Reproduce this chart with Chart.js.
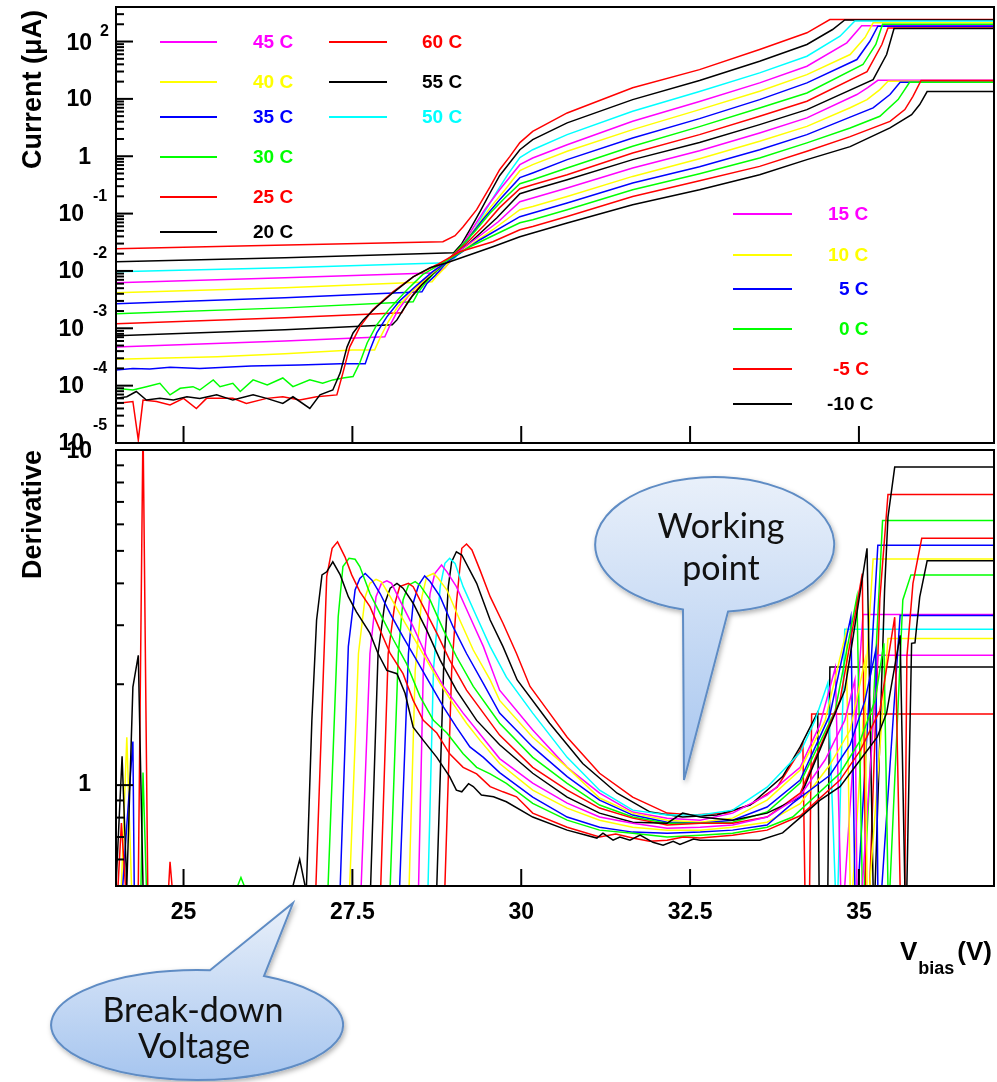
<!DOCTYPE html>
<html>
<head>
<meta charset="utf-8">
<title>SiPM I-V and derivative</title>
<script src="https://cdn.jsdelivr.net/npm/chart.js@4.4.0/dist/chart.umd.min.js"></script>
<style>
  html, body { margin: 0; padding: 0; background: #fff; }
  #wrap { position: relative; width: 997px; height: 1082px; overflow: hidden; }
  #wrap canvas, #wrap svg { position: absolute; left: 0; top: 0; }
  #wrap svg { pointer-events: none; }
</style>
</head>
<body>
<div id="wrap">
  <canvas id="topPanel" width="997" height="1082"></canvas>
  <canvas id="bottomPanel" width="997" height="1082"></canvas>
  <svg width="997" height="1082" viewBox="0 0 997 1082">
    <defs>
      <linearGradient id="bubbleFill" x1="0" y1="0" x2="0" y2="1">
        <stop offset="0" stop-color="#e9f0fa"/>
        <stop offset="1" stop-color="#a6c5ef"/>
      </linearGradient>
      <filter id="bubbleShadow" x="-20%" y="-20%" width="140%" height="140%">
        <feDropShadow dx="1.5" dy="2.5" stdDeviation="2.5" flood-color="#000" flood-opacity="0.3"/>
      </filter>
    </defs>
    <path d="M683,609.6 L684,780 L728,611.6 A119.5,67.5 0 1 0 683,609.6 Z"
          fill="url(#bubbleFill)" stroke="#5f8cc4" stroke-width="2" filter="url(#bubbleShadow)"/>
    <text x="721" y="538" font-family="Lato, 'Open Sans', sans-serif" font-size="34" text-anchor="middle" fill="#111">Working</text>
    <text x="721" y="580" font-family="Lato, 'Open Sans', sans-serif" font-size="34" text-anchor="middle" fill="#111">point</text>
    <path d="M210,970.2 L293,903 L264,976.1 A146,55 0 1 1 210,970.2 Z"
          fill="url(#bubbleFill)" stroke="#5f8cc4" stroke-width="2" filter="url(#bubbleShadow)"/>
    <text x="193" y="1022" font-family="Lato, 'Open Sans', sans-serif" font-size="34" text-anchor="middle" fill="#111">Break-down</text>
    <text x="194" y="1058" font-family="Lato, 'Open Sans', sans-serif" font-size="34" text-anchor="middle" fill="#111">Voltage</text>
  </svg>
</div>
<script>
// temperatures, one curve each (deg C)
const TEMPS = [-10, -5, 0, 5, 10, 15, 20, 25, 30, 35, 40, 45, 50, 55, 60];
const LINE_COLORS = ['#000000', '#ff0000', '#00ff00', '#0000ff', '#ffff00', '#ff00ff', '#000000',
                     '#ff0000', '#00ff00', '#0000ff', '#ffff00', '#ff00ff', '#00ffff', '#000000', '#ff0000'];

// tick values
const TOP_DECADES = [-5, -4, -3, -2, -1, 0, 1, 2];
const X_TICKS = [25, 27.5, 30, 32.5, 35];

// current vs Vbias: [V, uA]
const I_M10 = [[24.00, 6.0e-5], [24.16, 6.4e-5], [24.30, 7.9e-5], [24.45, 5.6e-5], [24.65, 6.0e-5], [24.85, 5.6e-5],
  [25.05, 6.4e-5], [25.24, 6.0e-5], [25.49, 6.9e-5], [25.73, 5.6e-5], [26.03, 6.9e-5], [26.23, 6.0e-5], [26.47, 4.9e-5],
  [26.62, 6.4e-5], [26.87, 4.0e-5], [27.02, 6.9e-5], [27.21, 8.4e-5], [27.32, 1.67e-4], [27.42, 4.7e-4], [27.51, 8.3e-4],
  [27.66, 1.40e-3], [27.86, 2.37e-3], [28.10, 4.16e-3], [28.40, 7.9e-3], [28.65, 0.0114], [28.90, 0.0139], [29.24, 0.0191],
  [29.58, 0.0264], [29.98, 0.0395], [30.17, 0.0458], [30.68, 0.0684], [31.65, 0.143], [32.64, 0.261], [33.53, 0.477],
  [34.23, 0.872], [34.87, 1.47], [35.46, 3.12], [35.78, 5.32], [35.90, 7.95], [36.01, 13.4], [37.00, 13.4]];
const I_M5 = [[24.00, 4.9e-5], [24.25, 5.3e-5], [24.33, 1.13e-5], [24.40, 5.6e-5], [24.60, 5.3e-5], [24.80, 4.6e-5],
  [25.00, 6.0e-5], [25.19, 4.0e-5], [25.34, 6.0e-5], [25.73, 6.0e-5], [25.93, 4.9e-5], [26.23, 6.0e-5], [26.47, 6.4e-5],
  [26.72, 5.6e-5], [26.97, 6.4e-5], [27.27, 6.9e-5], [27.36, 1.67e-4], [27.46, 4.7e-4], [27.61, 1.06e-3], [27.80, 2.10e-3],
  [28.10, 4.33e-3], [28.40, 7.9e-3], [28.75, 0.0128], [29.09, 0.0216], [29.58, 0.0323], [29.98, 0.0523], [30.17, 0.0597],
  [30.68, 0.0892], [31.65, 0.199], [32.64, 0.375], [33.53, 0.666], [34.23, 1.22], [34.87, 2.2], [35.46, 4.06],
  [35.68, 6.50], [35.80, 11.1], [35.92, 20.9], [37.00, 20.9]];
const I_0 = [[24.00, 9.0e-5], [24.25, 8.4e-5], [24.45, 9.6e-5], [24.65, 1.10e-4], [24.80, 6.9e-5], [24.95, 9.0e-5],
  [25.14, 9.6e-5], [25.24, 8.4e-5], [25.44, 1.26e-4], [25.54, 9.6e-5], [25.73, 1.10e-4], [25.84, 7.9e-5], [26.03, 1.26e-4],
  [26.24, 1.03e-4], [26.47, 1.36e-4], [26.62, 9.6e-5], [26.87, 1.26e-4], [27.06, 1.10e-4], [27.21, 1.26e-4], [27.36, 1.36e-4],
  [27.51, 1.44e-4], [27.61, 2.5e-4], [27.72, 5.6e-4], [27.86, 1.15e-3], [28.06, 2.27e-3], [28.31, 4.69e-3], [28.54, 8.6e-3],
  [28.87, 0.0145], [29.24, 0.0264], [29.61, 0.0428], [29.98, 0.0693], [30.17, 0.0782], [30.68, 0.117], [31.65, 0.261],
  [32.64, 0.496], [33.53, 0.933], [34.23, 1.71], [34.87, 3.1], [35.31, 4.97], [35.58, 9.72], [35.75, 19.5], [37.00, 19.5]];
const I_5 = [[24.00, 1.88e-4], [24.25, 2.0e-4], [24.50, 1.96e-4], [24.80, 2.1e-4], [25.24, 2.0e-4], [26.00, 2.2e-4],
  [26.72, 2.3e-4], [27.32, 2.4e-4], [27.69, 2.4e-4], [27.76, 4.2e-4], [27.86, 8.3e-4], [28.01, 1.58e-3], [28.20, 3.01e-3],
  [28.46, 5.73e-3], [28.69, 9.7e-3], [29.02, 0.0177], [29.39, 0.0350], [29.98, 0.0882], [30.17, 0.102], [30.68, 0.153],
  [31.65, 0.342], [32.64, 0.658], [33.53, 1.30], [34.23, 2.38], [34.87, 4.8], [35.21, 6.96], [35.46, 11.9], [35.61, 19.5],
  [37.00, 19.5]];
const I_10 = [[24.00, 2.9e-4], [25.50, 3.2e-4], [26.50, 3.6e-4], [27.50, 4.2e-4], [27.83, 4.2e-4], [27.91, 6.8e-4],
  [28.03, 1.30e-3], [28.17, 2.37e-3], [28.38, 4.33e-3], [28.62, 7.9e-3], [28.87, 0.0139], [29.21, 0.0264], [29.58, 0.0523],
  [29.98, 0.117], [30.17, 0.133], [30.68, 0.199], [31.65, 0.445], [32.64, 0.907], [33.53, 1.82], [34.23, 3.32], [34.87, 7.0],
  [35.12, 9.72], [35.31, 14.5], [35.43, 20.3], [37.00, 20.3]];
const I_15 = [[24.00, 4.7e-4], [26.50, 6.0e-4], [27.98, 7.1e-4], [28.06, 1.15e-3], [28.17, 2.02e-3], [28.32, 3.54e-3],
  [28.50, 6.21e-3], [28.72, 0.0105], [28.97, 0.0177], [29.31, 0.0350], [29.66, 0.0721], [29.98, 0.161], [30.17, 0.187],
  [30.68, 0.279], [31.65, 0.624], [32.64, 1.25], [33.53, 2.55], [34.23, 4.66], [34.97, 11.9], [35.13, 15.7], [35.28, 21.1],
  [37.00, 21.1]];
const I_20 = [[24.00, 7.4e-4], [26.50, 9.4e-4], [28.09, 1.15e-3], [28.16, 1.40e-3], [28.25, 2.10e-3], [28.38, 3.54e-3],
  [28.53, 5.73e-3], [28.72, 9.7e-3], [28.94, 0.0163], [29.24, 0.0310], [29.64, 0.0847], [29.98, 0.222], [30.17, 0.261],
  [30.68, 0.390], [31.65, 0.872], [32.64, 1.73], [33.53, 3.56], [34.23, 6.50], [35.21, 21.7], [35.41, 59.3], [35.52, 169],
  [37.00, 169]];
const I_25 = [[24.00, 1.20e-3], [26.50, 1.52e-3], [28.23, 1.86e-3], [28.32, 2.89e-3], [28.43, 4.33e-3], [28.57, 6.73e-3],
  [28.75, 0.0105], [28.94, 0.0170], [29.20, 0.0310], [29.46, 0.0639], [29.68, 0.127], [29.98, 0.272], [30.17, 0.319],
  [30.68, 0.477], [31.65, 1.14], [32.64, 2.38], [33.53, 4.97], [34.23, 9.08], [35.12, 29.9], [35.34, 88.7], [35.43, 172],
  [37.00, 172]];
const I_30 = [[24.00, 1.79e-3], [26.50, 2.27e-3], [28.40, 2.89e-3], [28.47, 4.16e-3], [28.57, 5.97e-3], [28.69, 8.6e-3],
  [28.87, 0.0133], [29.06, 0.0234], [29.31, 0.0483], [29.54, 0.102], [29.76, 0.189], [29.98, 0.332], [30.17, 0.390],
  [30.68, 0.624], [31.65, 1.49], [32.64, 3.28], [33.53, 6.96], [34.23, 12.7], [35.06, 39.7], [35.25, 88.7], [35.35, 200],
  [37.00, 200]];
const I_35 = [[24.00, 2.67e-3], [26.50, 3.40e-3], [28.53, 4.33e-3], [28.60, 5.97e-3], [28.72, 8.2e-3], [28.84, 0.0118],
  [28.99, 0.0184], [29.20, 0.0350], [29.43, 0.0782], [29.68, 0.175], [29.98, 0.423], [30.17, 0.511], [30.68, 0.872],
  [31.65, 2.08], [32.64, 4.53], [33.53, 9.72], [34.23, 19.0], [34.97, 48.5], [35.16, 100], [35.28, 185], [37.00, 185]];
const I_40 = [[24.00, 4.16e-3], [26.50, 5.08e-3], [28.68, 6.47e-3], [28.75, 8.2e-3], [28.87, 0.0114], [28.99, 0.0170],
  [29.14, 0.0286], [29.34, 0.0590], [29.54, 0.127], [29.76, 0.261], [29.98, 0.560], [30.17, 0.713], [30.68, 1.22],
  [31.65, 2.91], [32.64, 6.50], [33.53, 13.6], [34.23, 26.5], [34.87, 59.3], [35.09, 117.5], [35.21, 212], [37.00, 212]];
const I_45 = [[24.00, 6.21e-3], [26.50, 7.6e-3], [28.77, 9.3e-3], [28.87, 0.0114], [28.97, 0.0157], [29.12, 0.0275],
  [29.27, 0.0523], [29.46, 0.117], [29.68, 0.261], [29.98, 0.713], [30.17, 0.933], [30.68, 1.59], [31.65, 4.06],
  [32.64, 8.97], [33.53, 19.0], [34.23, 37.1], [34.82, 94.9], [35.04, 188], [37.00, 188]];
const I_50 = [[24.00, 9.67e-3], [26.50, 0.0114], [28.91, 0.0139], [29.02, 0.0170], [29.14, 0.0254], [29.29, 0.0483],
  [29.46, 0.108], [29.64, 0.241], [29.80, 0.477], [29.98, 0.944], [30.17, 1.30], [30.68, 2.38], [31.65, 6.07],
  [32.64, 13.4], [33.53, 28.4], [34.23, 55.4], [34.72, 124], [34.94, 228], [37.00, 228]];
const I_55 = [[24.00, 0.0145], [26.50, 0.0170], [29.00, 0.0207], [29.12, 0.0298], [29.24, 0.0523], [29.39, 0.108],
  [29.54, 0.231], [29.68, 0.458], [29.83, 0.772], [29.98, 1.30], [30.17, 1.95], [30.68, 3.81], [31.65, 9.72],
  [32.64, 20.9], [33.53, 45.3], [34.23, 88.7], [34.61, 162], [34.79, 238], [37.00, 238]];
const I_60 = [[24.00, 0.0244], [26.00, 0.0275], [28.84, 0.0323], [29.02, 0.0411], [29.14, 0.0590], [29.34, 0.117],
  [29.54, 0.294], [29.68, 0.583], [29.83, 0.983], [29.98, 1.73], [30.17, 2.72], [30.68, 5.69], [31.65, 15.6],
  [32.64, 32.4], [33.53, 72.5], [34.23, 142], [34.57, 242], [37.00, 242]];

// derivative vs Vbias: [V, value]
const D_M10 = [[24.00, 0.5], [24.09, 1.22], [24.16, 0.5], [24.25, 1.96], [24.33, 2.44], [24.40, 0.5], [26.62, 0.5],
  [26.72, 0.6], [26.80, 0.5], [26.82, 0.5], [26.90, 1.56], [26.97, 3.11], [27.05, 4.24], [27.12, 4.33], [27.21, 4.64],
  [27.32, 4.24], [27.44, 3.65], [27.56, 3.29], [27.76, 2.84], [27.88, 2.47], [28.01, 2.20], [28.16, 2.15], [28.28, 1.88],
  [28.40, 1.49], [28.55, 1.36], [28.75, 1.21], [28.94, 1.06], [29.04, 0.966], [29.12, 0.955], [29.22, 1.01], [29.29, 0.99],
  [29.41, 0.934], [29.59, 0.923], [29.78, 0.892], [30.17, 0.803], [30.68, 0.734], [31.12, 0.695], [31.21, 0.719],
  [31.36, 0.685], [31.46, 0.70], [31.61, 0.685], [31.76, 0.709], [31.95, 0.675], [32.10, 0.662], [32.25, 0.68],
  [32.35, 0.665], [32.55, 0.69], [32.65, 0.685], [33.13, 0.685], [33.53, 0.685], [33.87, 0.72], [34.13, 0.80],
  [34.42, 0.90], [34.72, 0.99], [35.02, 1.19], [35.27, 1.39], [35.41, 1.64], [35.61, 2.80], [35.68, 0.5], [35.71, 0.5],
  [35.78, 2.65], [35.83, 2.66], [35.90, 3.64], [36.01, 4.67], [37.00, 4.67]];
const D_M5 = [[24.00, 0.5], [24.03, 0.5], [24.08, 0.77], [24.14, 0.5], [24.33, 0.5], [24.40, 12], [24.47, 0.5],
  [24.78, 0.5], [24.80, 0.59], [24.83, 0.5], [26.96, 0.5], [27.12, 4.19], [27.20, 5.09], [27.28, 5.32], [27.39, 4.80],
  [27.49, 4.24], [27.61, 3.78], [27.76, 3.41], [27.91, 2.90], [28.06, 2.47], [28.25, 2.15], [28.40, 1.79], [28.55, 1.56],
  [28.75, 1.43], [28.94, 1.24], [29.14, 1.13], [29.34, 1.08], [29.54, 0.99], [29.73, 0.955], [29.93, 0.923], [30.17, 0.825],
  [30.68, 0.749], [31.16, 0.70], [31.40, 0.715], [31.65, 0.695], [31.90, 0.68], [32.16, 0.685], [32.40, 0.70],
  [32.65, 0.695], [33.13, 0.709], [33.64, 0.734], [34.13, 0.81], [34.72, 1.035], [35.02, 1.27], [35.31, 1.67],
  [35.53, 3.17], [35.61, 0.5], [35.68, 0.5], [35.71, 2.41], [35.80, 4.0], [35.93, 5.45], [37.00, 5.45]];
const D_0 = [[24.00, 0.5], [24.37, 0.5], [24.40, 1.09], [24.45, 0.5], [25.80, 0.5], [25.85, 0.53], [25.90, 0.5],
  [27.14, 0.5], [27.29, 3.18], [27.36, 4.49], [27.45, 4.75], [27.54, 4.72], [27.61, 4.49], [27.76, 3.73], [27.91, 3.25],
  [28.11, 2.71], [28.30, 2.31], [28.50, 1.84], [28.70, 1.56], [28.90, 1.43], [29.14, 1.24], [29.34, 1.13], [29.54, 1.08],
  [29.78, 1.012], [30.17, 0.882], [30.68, 0.786], [31.16, 0.734], [31.65, 0.719], [32.16, 0.70], [32.65, 0.709],
  [33.13, 0.719], [33.64, 0.749], [34.02, 0.803], [34.72, 1.085], [35.02, 1.36], [35.24, 1.79], [35.37, 2.65],
  [35.43, 0.5], [35.46, 0.5], [35.65, 3.57], [35.77, 4.24], [37.00, 4.24]];
const D_5 = [[24.00, 0.5], [24.10, 0.5], [24.16, 0.76], [24.25, 1.35], [24.27, 0.5], [27.32, 0.5], [27.44, 2.59],
  [27.54, 3.82], [27.61, 4.14], [27.69, 4.28], [27.79, 4.09], [27.91, 3.73], [28.06, 3.25], [28.25, 2.77], [28.45, 2.36],
  [28.65, 2.01], [28.85, 1.71], [29.04, 1.49], [29.24, 1.30], [29.44, 1.21], [29.68, 1.09], [30.17, 0.921], [30.68, 0.803],
  [31.16, 0.749], [31.65, 0.724], [32.16, 0.719], [32.65, 0.724], [33.13, 0.734], [33.64, 0.760], [34.02, 0.884],
  [34.57, 1.07], [34.87, 1.32], [35.09, 1.79], [35.25, 2.53], [35.28, 0.5], [35.34, 0.5], [35.61, 3.21], [37.00, 3.21]];
const D_10 = [[24.00, 0.5], [24.08, 0.5], [24.16, 1.39], [24.23, 0.5], [27.46, 0.5], [27.59, 2.47], [27.69, 3.65],
  [27.76, 4.0], [27.85, 4.11], [27.93, 4.04], [28.06, 3.65], [28.20, 3.25], [28.40, 2.77], [28.60, 2.36], [28.80, 2.01],
  [28.99, 1.75], [29.19, 1.53], [29.39, 1.36], [29.68, 1.16], [30.17, 0.966], [30.68, 0.854], [31.16, 0.786],
  [31.65, 0.749], [32.16, 0.734], [32.65, 0.734], [33.13, 0.749], [33.64, 0.775], [34.13, 0.88], [34.57, 1.15],
  [34.87, 1.46], [35.09, 2.36], [35.12, 0.5], [35.16, 0.5], [35.43, 2.74], [37.00, 2.74]];
const D_15 = [[24.00, 0.5], [27.63, 0.5], [27.76, 2.47], [27.85, 3.65], [27.93, 4.0], [28.01, 4.07], [28.08, 4.0],
  [28.20, 3.57], [28.40, 2.97], [28.60, 2.42], [28.85, 1.97], [29.14, 1.64], [29.68, 1.20], [30.17, 1.014], [30.68, 0.884],
  [31.16, 0.803], [31.65, 0.770], [32.16, 0.744], [32.65, 0.749], [33.13, 0.760], [33.64, 0.803], [34.13, 0.93],
  [34.50, 1.19], [34.79, 1.56], [34.94, 2.06], [34.97, 0.5], [35.05, 0.5], [35.28, 2.44], [37.00, 2.44]];
const D_20 = [[24.00, 0.5], [27.77, 0.5], [27.88, 2.47], [27.98, 3.49], [28.06, 3.87], [28.16, 4.0], [28.25, 3.87],
  [28.40, 3.49], [28.60, 2.90], [28.80, 2.36], [29.04, 1.92], [29.34, 1.56], [29.68, 1.32], [30.17, 1.085], [30.68, 0.921],
  [31.16, 0.825], [31.65, 0.775], [32.16, 0.770], [32.39, 0.825], [32.65, 0.803], [33.13, 0.786], [33.64, 0.825],
  [34.13, 0.921], [34.79, 1.92], [35.12, 5.09], [35.21, 0.5], [35.24, 0.5], [35.38, 3.82], [35.43, 6.3], [35.53, 8.89],
  [37.00, 8.89]];
const D_25 = [[24.00, 0.5], [27.92, 0.5], [28.03, 2.47], [28.13, 3.49], [28.20, 3.91], [28.33, 4.0], [28.40, 3.91],
  [28.55, 3.41], [28.75, 2.84], [28.94, 2.36], [29.19, 1.92], [29.68, 1.41], [30.17, 1.13], [30.68, 0.966], [31.16, 0.854],
  [31.65, 0.797], [32.16, 0.760], [32.65, 0.770], [33.13, 0.770], [33.64, 0.803], [34.13, 0.946], [34.72, 1.79],
  [35.05, 4.28], [35.10, 0.5], [35.16, 0.5], [35.31, 3.6], [35.43, 7.37], [37.00, 7.37]];
const D_30 = [[24.00, 0.5], [28.06, 0.5], [28.18, 2.47], [28.25, 3.57], [28.33, 3.95], [28.43, 4.05], [28.50, 3.95],
  [28.65, 3.57], [28.85, 2.90], [29.04, 2.42], [29.29, 1.97], [29.68, 1.53], [30.17, 1.21], [30.68, 1.012], [31.16, 0.872],
  [31.65, 0.803], [32.16, 0.770], [32.65, 0.770], [33.13, 0.775], [33.64, 0.831], [34.13, 1.014], [34.65, 1.67],
  [34.97, 3.64], [35.05, 0.5], [35.08, 0.5], [35.35, 6.16], [37.00, 6.16]];
const D_35 = [[24.00, 0.5], [28.20, 0.5], [28.33, 2.47], [28.40, 3.49], [28.48, 3.95], [28.57, 4.21], [28.65, 4.05],
  [28.80, 3.65], [28.99, 2.97], [29.19, 2.47], [29.44, 2.01], [29.68, 1.64], [30.17, 1.30], [30.68, 1.06], [31.16, 0.902],
  [31.65, 0.814], [32.16, 0.775], [32.65, 0.770], [33.13, 0.786], [33.64, 0.86], [34.13, 1.035], [34.57, 1.62],
  [34.88, 3.17], [34.94, 0.5], [34.99, 0.5], [35.28, 5.20], [37.00, 5.20]];
const D_40 = [[24.00, 0.5], [28.34, 0.5], [28.43, 2.20], [28.53, 3.65], [28.60, 4.19], [28.70, 4.28], [28.77, 4.14],
  [28.90, 3.82], [29.09, 3.11], [29.29, 2.53], [29.54, 2.06], [29.68, 1.79], [30.17, 1.39], [30.68, 1.13], [31.16, 0.915],
  [31.65, 0.825], [32.16, 0.786], [32.65, 0.775], [33.13, 0.797], [33.64, 0.902], [34.13, 1.11], [34.50, 1.56],
  [34.81, 2.86], [34.87, 0.5], [34.91, 0.5], [35.21, 4.73], [37.00, 4.73]];
const D_45 = [[24.00, 0.5], [28.48, 0.5], [28.55, 2.20], [28.65, 3.73], [28.72, 4.28], [28.82, 4.54], [28.90, 4.33],
  [29.04, 3.91], [29.24, 3.18], [29.44, 2.59], [29.68, 1.92], [30.17, 1.46], [30.68, 1.13], [31.16, 0.946], [31.65, 0.831],
  [32.16, 0.797], [32.65, 0.786], [33.13, 0.825], [33.64, 0.934], [34.13, 1.13], [34.42, 1.51], [34.65, 2.24],
  [34.73, 0.5], [34.79, 0.5], [35.06, 3.23], [37.00, 3.23]];
const D_50 = [[24.00, 0.5], [28.62, 0.5], [28.70, 2.20], [28.80, 3.91], [28.87, 4.59], [28.94, 4.75], [29.02, 4.59],
  [29.14, 3.91], [29.34, 3.18], [29.54, 2.59], [29.78, 2.10], [30.17, 1.64], [30.68, 1.21], [31.16, 0.966], [31.65, 0.842],
  [32.16, 0.814], [32.65, 0.814], [33.13, 0.842], [33.64, 0.986], [34.13, 1.25], [34.35, 1.56], [34.54, 2.02],
  [34.65, 0.5], [34.69, 0.5], [34.79, 2.92], [37.00, 2.92]];
const D_55 = [[24.00, 0.5], [28.75, 0.5], [28.85, 2.20], [28.92, 3.91], [28.97, 4.64], [29.04, 4.97], [29.12, 4.86],
  [29.34, 4.00], [29.54, 3.11], [29.73, 2.59], [29.94, 2.06], [30.42, 1.53], [30.91, 1.16], [31.42, 0.946], [31.91, 0.831],
  [32.39, 0.803], [32.90, 0.814], [33.39, 0.872], [33.87, 1.06], [34.13, 1.30], [34.27, 1.48], [34.39, 1.65],
  [34.41, 0.5], [34.54, 0.5], [34.57, 2.25], [37.00, 2.25]];
const D_60 = [[24.00, 0.5], [28.87, 0.5], [28.97, 2.20], [29.04, 3.49], [29.12, 5.09], [29.19, 5.24], [29.27, 5.03],
  [29.39, 4.38], [29.54, 3.65], [29.73, 3.04], [29.93, 2.47], [30.13, 1.97], [30.42, 1.64], [30.68, 1.39], [31.16, 1.085],
  [31.65, 0.921], [32.16, 0.825], [32.54, 0.814], [33.05, 0.825], [33.43, 0.882], [33.79, 0.986], [34.13, 1.27],
  [34.17, 1.33], [34.20, 0.5], [34.27, 0.5], [34.30, 1.63], [37.00, 1.63]];

const CURRENT = [I_M10, I_M5, I_0, I_5, I_10, I_15, I_20, I_25, I_30, I_35, I_40, I_45, I_50, I_55, I_60];
const DERIV = [D_M10, D_M5, D_0, D_5, D_10, D_15, D_20, D_25, D_30, D_35, D_40, D_45, D_50, D_55, D_60];

// legend placement in the top pad (ROOT TLegend style, no box)
const LEGEND_SLOTS = [
  { t: 45, x1: 160, x2: 217, tx: 253, y: 42 }, { t: 40, x1: 160, x2: 217, tx: 253, y: 82 },
  { t: 35, x1: 160, x2: 217, tx: 253, y: 117 }, { t: 30, x1: 160, x2: 217, tx: 253, y: 157 },
  { t: 25, x1: 160, x2: 217, tx: 253, y: 197 }, { t: 20, x1: 160, x2: 217, tx: 253, y: 232 },
  { t: 60, x1: 329, x2: 387, tx: 422, y: 42 }, { t: 55, x1: 329, x2: 387, tx: 422, y: 82 },
  { t: 50, x1: 329, x2: 387, tx: 422, y: 117 },
  { t: 15, x1: 733, x2: 792, tx: 828, y: 214 }, { t: 10, x1: 733, x2: 792, tx: 828, y: 255 },
  { t: 5, x1: 733, x2: 792, tx: 839, y: 289 }, { t: 0, x1: 733, x2: 792, tx: 839, y: 329 },
  { t: -5, x1: 733, x2: 792, tx: 833, y: 369 }, { t: -10, x1: 733, x2: 792, tx: 827, y: 404 }
];

const FONT = '"Liberation Sans", Arial, Helvetica, sans-serif';

function makeSets(series) {
  return series.map((pts, i) => ({
    label: TEMPS[i] + ' C',
    data: pts.map(p => ({ x: p[0], y: p[1] })),
    borderColor: LINE_COLORS[i],
    backgroundColor: LINE_COLORS[i],
    borderWidth: 1.5,
    pointRadius: 0,
    tension: 0,
    fill: false
  }));
}

function seg(ctx, x1, y1, x2, y2) {
  ctx.beginPath();
  ctx.moveTo(x1, y1);
  ctx.lineTo(x2, y2);
  ctx.stroke();
}

// frame + inward ticks like a ROOT pad
function drawFrame(chart, majorY, minorY) {
  const { ctx, chartArea: a, scales } = chart;
  ctx.save();
  ctx.strokeStyle = '#000';
  ctx.lineWidth = 2;
  ctx.strokeRect(a.left, a.top, a.right - a.left, a.bottom - a.top);
  majorY.forEach(v => { const py = scales.y.getPixelForValue(v); seg(ctx, a.left, py, a.left + 17, py); });
  minorY.forEach(v => { const py = scales.y.getPixelForValue(v); seg(ctx, a.left, py, a.left + 8, py); });
  X_TICKS.forEach(v => { const px = scales.x.getPixelForValue(v); seg(ctx, px, a.bottom, px, a.bottom - 17); });
  ctx.restore();
}

function verticalTitle(ctx, text, baseX, topY) {
  ctx.save();
  ctx.translate(baseX, topY);
  ctx.rotate(-Math.PI / 2);
  ctx.font = 'bold 27px ' + FONT;
  ctx.fillStyle = '#000';
  ctx.textAlign = 'right';
  ctx.textBaseline = 'alphabetic';
  ctx.fillText(text, 0, 0);
  ctx.restore();
}

const topDecor = {
  id: 'topDecor',
  afterDatasetsDraw(chart) {
    const { ctx, scales } = chart;
    const major = TOP_DECADES.map(k => Math.pow(10, k));
    const minor = [];
    TOP_DECADES.forEach(k => {
      for (let m = 2; m <= 9; m++) {
        const v = m * Math.pow(10, k);
        if (v <= scales.y.max) minor.push(v);
      }
    });
    drawFrame(chart, major, minor);

    ctx.save();
    ctx.fillStyle = '#000';
    ctx.textBaseline = 'middle';
    TOP_DECADES.forEach(k => {
      const py = scales.y.getPixelForValue(Math.pow(10, k));
      ctx.font = 'bold 23px ' + FONT;
      ctx.textAlign = 'right';
      if (k === 2) {
        ctx.fillText('10', 92, py + 2);
        ctx.font = 'bold 16px ' + FONT;
        ctx.textAlign = 'left';
        ctx.fillText('2', 100, py - 10);
      } else if (k === 1) {
        ctx.fillText('10', 92, py + 1);
      } else if (k === 0) {
        ctx.fillText('1', 91, py + 1);
      } else {
        ctx.fillText('10', 84, py + 1);
        ctx.font = 'bold 16px ' + FONT;
        ctx.textAlign = 'left';
        ctx.fillText(String(k), 93, py - 17);
      }
    });

    // legend
    ctx.lineWidth = 2;
    ctx.font = 'bold 19px ' + FONT;
    ctx.textAlign = 'left';
    LEGEND_SLOTS.forEach(s => {
      const col = LINE_COLORS[TEMPS.indexOf(s.t)];
      ctx.strokeStyle = col;
      seg(ctx, s.x1, s.y, s.x2, s.y);
      ctx.fillStyle = col;
      ctx.fillText(s.t + ' C', s.tx, s.y + 1);
    });
    ctx.restore();

    verticalTitle(ctx, 'Current (\u03bcA)', 41, 10);
  }
};

const bottomDecor = {
  id: 'bottomDecor',
  afterDatasetsDraw(chart) {
    const { ctx, scales } = chart;
    drawFrame(chart, [1, 10], [0.6, 0.7, 0.8, 0.9, 2, 3, 4, 5, 6, 7, 8, 9]);

    ctx.save();
    ctx.fillStyle = '#000';
    ctx.textBaseline = 'middle';
    ctx.font = 'bold 23px ' + FONT;
    ctx.textAlign = 'right';
    ctx.fillText('10', 92, scales.y.getPixelForValue(10) + 2);
    ctx.fillText('1', 91, scales.y.getPixelForValue(1));

    ctx.textAlign = 'center';
    X_TICKS.forEach(v => {
      ctx.fillText(String(v), scales.x.getPixelForValue(v), 913);
    });

    // V_bias (V)
    ctx.textBaseline = 'alphabetic';
    ctx.textAlign = 'right';
    ctx.font = 'bold 26px ' + FONT;
    const w1 = ctx.measureText('(V)').width;
    ctx.fillText('(V)', 992, 960);
    ctx.font = 'bold 18px ' + FONT;
    const w2 = ctx.measureText('bias').width;
    ctx.fillText('bias', 992 - w1 - 3, 974);
    ctx.font = 'bold 26px ' + FONT;
    ctx.fillText('V', 992 - w1 - 3 - w2 - 1, 960);
    ctx.restore();

    verticalTitle(ctx, 'Derivative', 41, 450);
  }
};

function baseOptions(padding, yMin, yMax) {
  return {
    responsive: false,
    animation: false,
    devicePixelRatio: 1,
    events: [],
    layout: { padding: padding },
    scales: {
      x: { type: 'linear', min: 24, max: 37, display: false },
      y: { type: 'logarithmic', min: yMin, max: yMax, display: false }
    },
    plugins: { legend: { display: false }, tooltip: { enabled: false } }
  };
}

new Chart(document.getElementById('topPanel'), {
  type: 'line',
  data: { datasets: makeSets(CURRENT) },
  options: baseOptions({ left: 116, top: 7, right: 3, bottom: 639 }, 1e-5, 400),
  plugins: [topDecor]
});

new Chart(document.getElementById('bottomPanel'), {
  type: 'line',
  data: { datasets: makeSets(DERIV) },
  options: baseOptions({ left: 116, top: 450, right: 3, bottom: 196 }, 0.5, 10),
  plugins: [bottomDecor]
});
</script>
</body>
</html>
